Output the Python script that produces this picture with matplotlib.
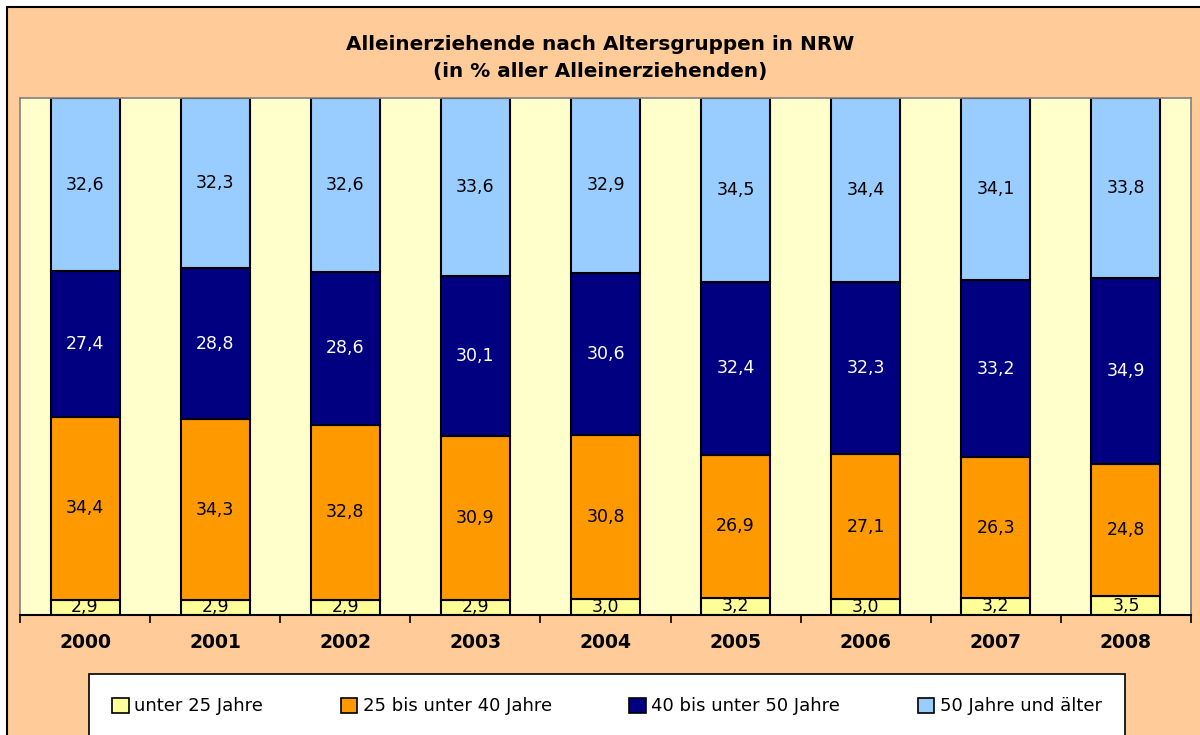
import numpy as np
import matplotlib
matplotlib.use("Agg")
import matplotlib.pyplot as plt
from matplotlib.patches import Rectangle

# data (percent of all single parents, NRW)
years = ["2000", "2001", "2002", "2003", "2004", "2005", "2006", "2007", "2008"]
unter_25 = [2.9, 2.9, 2.9, 2.9, 3.0, 3.2, 3.0, 3.2, 3.5]
von_25_40 = [34.4, 34.3, 32.8, 30.9, 30.8, 26.9, 27.1, 26.3, 24.8]
von_40_50 = [27.4, 28.8, 28.6, 30.1, 30.6, 32.4, 32.3, 33.2, 34.9]
ab_50 = [32.6, 32.3, 32.6, 33.6, 32.9, 34.5, 34.4, 34.1, 33.8]
series_names = ["unter 25 Jahre", "25 bis unter 40 Jahre",
                "40 bis unter 50 Jahre", "50 Jahre und älter"]

colors = ["#FFFF99", "#FF9900", "#000080", "#99CCFF"]
text_colors = ["black", "black", "white", "black"]

plt.rcParams['font.family'] = ['DejaVu Sans']

fig = plt.figure(figsize=(12, 7.35), dpi=100, facecolor="white")
# orange chart frame
fig.patches.append(Rectangle((7 / 1200, -0.1), 1.2, 1 - 7 / 735 + 0.1,
                             transform=fig.transFigure, facecolor="#FFCC99",
                             edgecolor="black", linewidth=1.5, zorder=-5))

ax = fig.add_axes([20 / 1200, 1 - 615 / 735, 1171 / 1200, 517 / 735])
ax.set_zorder(1)
ax.set_facecolor("#FFFFCC")

data = np.array([unter_25, von_25_40, von_40_50, ab_50])
totals = data.sum(axis=0)
shares = data / totals * 100  # 100 % stacked
x = np.arange(len(years))
bottom = np.zeros(len(years))
for i, name in enumerate(series_names):
    ax.bar(x, shares[i], 0.53, bottom=bottom, color=colors[i],
           edgecolor="black", linewidth=1.5, label=name, zorder=2)
    for j in range(len(years)):
        lbl = f"{data[i, j]:.1f}".replace(".", ",")
        ax.text(x[j], bottom[j] + shares[i, j] / 2, lbl, ha="center",
                va="center", fontsize=12.5, color=text_colors[i], zorder=3)
    bottom += shares[i]

ax.set_xlim(-0.5, len(years) - 0.5)
ax.set_ylim(0, 100)
ax.set_yticks([])
ax.set_xticks(np.arange(len(years) + 1) - 0.5)
ax.set_xticklabels([])
ax.set_xticks(x, minor=True)
ax.set_xticklabels(years, minor=True, fontsize=13.5, fontweight="bold")
ax.tick_params(axis="x", which="major", length=6, width=1.2, color="black")
ax.tick_params(axis="x", which="minor", length=0, pad=13)
for side in ["top", "left", "right"]:
    ax.spines[side].set_color("#808080")
    ax.spines[side].set_linewidth(1.2)
ax.spines["bottom"].set_color("black")
ax.spines["bottom"].set_linewidth(1.5)

fig.text(0.5, 1 - 44 / 735, "Alleinerziehende nach Altersgruppen in NRW",
         ha="center", va="center", fontsize=14.4, fontweight="bold")
fig.text(0.5, 1 - 72 / 735, "(in % aller Alleinerziehenden)",
         ha="center", va="center", fontsize=14.4, fontweight="bold")

leg = fig.legend(loc="upper left", ncol=4, mode="expand",
                 bbox_to_anchor=(89 / 1200, 1 - 674 / 735 - 0.01, 1036 / 1200, 0.01),
                 fontsize=13, frameon=True, fancybox=False, framealpha=1,
                 handlelength=0.9, handleheight=0.9, handletextpad=0.3,
                 borderaxespad=0, borderpad=1.3)
leg.get_frame().set_edgecolor("black")
leg.get_frame().set_linewidth(1.2)
leg.get_frame().set_facecolor("white")
for h in leg.legend_handles:
    h.set_linewidth(1.2)

fig.savefig("out.png", dpi=100, facecolor=fig.get_facecolor())
